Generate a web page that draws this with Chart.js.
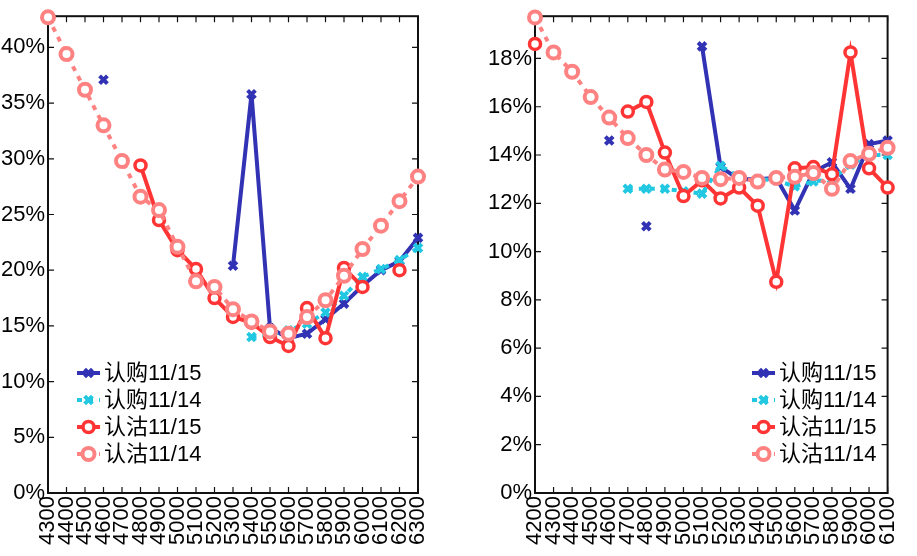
<!DOCTYPE html>
<html>
<head>
<meta charset="utf-8">
<script src="https://cdn.jsdelivr.net/npm/chart.js@4.4.1/dist/chart.umd.min.js"></script>
<style>
  html, body { margin: 0; padding: 0; background: #fff; }
  #wrap { position: relative; width: 917px; height: 556px; overflow: hidden; }
  canvas { position: absolute; top: 0; }
</style>
</head>
<body>
<div id="wrap">
  <canvas id="left" width="458" height="556" style="left:0"></canvas>
  <canvas id="right" width="459" height="556" style="left:458px"></canvas>
</div>
<script>
(function () {
  'use strict';

  // --- Data: left panel (strikes 4300-6300) ---
  const strikesA = ['4300', '4400', '4500', '4600', '4700', '4800', '4900', '5000', '5100', '5200',
    '5300', '5400', '5500', '5600', '5700', '5800', '5900', '6000', '6100', '6200', '6300'];
  const callA15 = [null, null, null, 37.1, null, null, null, null, null, null,
    20.4, 35.8, 14.8, 13.9, 14.3, 15.6, 17.0, 18.6, 20.0, 20.8, 22.9];
  const callA14 = [null, null, null, null, null, null, null, null, null, null,
    null, 14.0, 14.2, 14.6, 15.2, 16.2, 17.7, 19.4, 20.1, 20.9, 22.0];
  const putA15 = [null, null, null, null, null, 29.4, 24.5, 21.8, 20.1, 17.5,
    15.8, 15.3, 14.0, 13.2, 16.6, 13.9, 20.2, 18.5, null, 20.0, null];
  const putA14 = [42.7, 39.4, 36.2, 33.0, 29.8, 26.6, 25.4, 22.1, 19.0, 18.5,
    16.5, 15.4, 14.5, 14.3, 15.8, 17.3, 19.5, 21.9, 24.0, 26.2, 28.4];

  // --- Data: right panel (strikes 4200-6100) ---
  const strikesB = ['4200', '4300', '4400', '4500', '4600', '4700', '4800', '4900', '5000', '5100',
    '5200', '5300', '5400', '5500', '5600', '5700', '5800', '5900', '6000', '6100'];
  const callB15 = [null, null, null, null, 14.6, null, 11.05, null, null, 18.5,
    13.5, 13.0, 13.0, 13.05, 11.7, 13.3, 13.7, 12.6, 14.45, 14.6];
  const callB14 = [null, null, null, null, null, 12.6, 12.6, 12.6, 12.5, 12.4,
    13.55, 13.1, 13.0, 12.95, 12.7, 12.9, 13.0, 13.6, 14.0, 14.0];
  const putB15 = [18.6, null, null, null, null, 15.8, 16.2, 14.1, 12.3, 12.95,
    12.2, 12.65, 11.9, 8.75, 13.45, 13.5, 13.2, 18.25, 13.45, 12.65];
  const putB14 = [19.7, 18.25, 17.45, 16.4, 15.55, 14.7, 14.0, 13.4, 13.3, 13.05,
    13.0, 13.05, 12.9, 13.05, 13.1, 13.25, 12.6, 13.75, 14.05, 14.3];

  const seriesNames = ['认购11/15', '认购11/14', '认沽11/15', '认沽11/14'];

  const FONT = "'Liberation Sans', Arial, 'Noto Sans CJK SC', sans-serif";
  const BLUE = '#3232b4';
  const CYAN = '#22c8e2';
  const RED = '#ff3434';
  const PINK = '#ff8282';

  // --- Series styling ---
  function makeSeries(label, data, color, dotted, marker, order) {
    const circle = marker === 'circle';
    return {
      label,
      data,
      borderColor: color,
      backgroundColor: circle ? '#fff' : color,
      pointBorderColor: color,
      pointBackgroundColor: circle ? '#fff' : color,
      borderWidth: 4,
      borderDash: dotted ? [5, 6] : [],
      pointStyle: circle ? 'circle' : 'crossRot',
      pointRadius: circle ? (dotted ? 6 : 5.5) : 5.5,
      pointBorderWidth: circle ? (dotted ? 4 : 3.5) : 4,
      tension: 0,
      spanGaps: false,
      clip: false,
      order,
    };
  }

  // --- Frame with inward ticks (matlab look) ---
  const framePlugin = {
    id: 'frame',
    beforeDatasetsDraw(chart) {
      const { ctx, chartArea: a, scales: { x, y } } = chart;
      ctx.save();
      ctx.strokeStyle = '#111';
      ctx.lineWidth = 2;
      ctx.strokeRect(a.left, a.top, a.right - a.left, a.bottom - a.top);
      ctx.lineWidth = 1.2;
      ctx.beginPath();
      x.ticks.forEach((t, i) => {
        const px = x.getPixelForTick(i);
        ctx.moveTo(px, a.bottom); ctx.lineTo(px, a.bottom - 6);
        ctx.moveTo(px, a.top); ctx.lineTo(px, a.top + 6);
      });
      y.ticks.forEach((t) => {
        const py = y.getPixelForValue(t.value);
        ctx.moveTo(a.left, py); ctx.lineTo(a.left + 6, py);
        ctx.moveTo(a.right, py); ctx.lineTo(a.right - 6, py);
      });
      ctx.stroke();
      ctx.restore();
    },
  };

  // --- Legend drawn inside plot area ---
  const boxLegend = {
    id: 'boxLegend',
    afterDraw(chart, args, opts) {
      const { ctx, chartArea: a } = chart;
      const x0 = a.left + opts.dx;
      ctx.save();
      ctx.font = '22px ' + FONT;
      ctx.textBaseline = 'middle';
      chart.data.datasets.forEach((ds, i) => {
        const yy = opts.top + i * 27;
        ctx.strokeStyle = ds.borderColor;
        ctx.lineWidth = ds.borderWidth;
        ctx.setLineDash(ds.borderDash);
        ctx.beginPath();
        ctx.moveTo(x0, yy);
        ctx.lineTo(x0 + 23, yy);
        ctx.stroke();
        ctx.setLineDash([]);
        ctx.fillStyle = ds.pointBackgroundColor;
        ctx.lineWidth = ds.pointBorderWidth;
        Chart.helpers.drawPoint(ctx, {
          pointStyle: ds.pointStyle,
          radius: ds.pointRadius,
          borderWidth: ds.pointBorderWidth,
          rotation: 0,
        }, x0 + 11.5, yy);
        ctx.fillStyle = '#000';
        ctx.fillText(ds.label, x0 + 27, yy + 1);
      });
      ctx.restore();
    },
  };

  function makeChart(id, labels, sets, yMax, yStep, padLeft, padRight, legendDx) {
    const ctx = document.getElementById(id).getContext('2d');
    return new Chart(ctx, {
      type: 'line',
      data: {
        labels,
        datasets: [
          makeSeries(seriesNames[0], sets[0], BLUE, false, 'cross', 4),
          makeSeries(seriesNames[1], sets[1], CYAN, true, 'cross', 3),
          makeSeries(seriesNames[2], sets[2], RED, false, 'circle', 2),
          makeSeries(seriesNames[3], sets[3], PINK, true, 'circle', 1),
        ],
      },
      options: {
        responsive: false,
        animation: false,
        events: [],
        layout: { padding: { left: padLeft, right: padRight, top: 16, bottom: 0 } },
        plugins: {
          legend: { display: false },
          tooltip: { enabled: false },
          boxLegend: { dx: legendDx, top: 373 },
        },
        scales: {
          x: {
            offset: false,
            grid: { display: false, drawTicks: false },
            border: { display: false },
            ticks: {
              autoSkip: false,
              minRotation: 90,
              maxRotation: 90,
              padding: 3,
              color: '#000',
              font: { family: FONT, size: 22 },
            },
            afterFit(s) { s.height = 63; },
          },
          y: {
            min: 0,
            max: yMax,
            grid: { display: false, drawTicks: false },
            border: { display: false },
            ticks: {
              stepSize: yStep,
              padding: 3,
              color: '#000',
              font: { family: FONT, size: 22 },
              callback: (v) => v + '%',
            },
            afterBuildTicks(s) {
              s.ticks = s.ticks.filter((t) => Math.abs(t.value / yStep - Math.round(t.value / yStep)) < 1e-6);
            },
            afterFit(s) { s.width = 48; },
          },
        },
      },
      plugins: [framePlugin, boxLegend],
    });
  }

  makeChart('left', strikesA, [callA15, callA14, putA15, putA14], 42.8, 5, 0, 40, 29);
  makeChart('right', strikesB, [callB15, callB14, putB15, putB14], 19.75, 2, 29, 12, 217);
})();
</script>
</body>
</html>
